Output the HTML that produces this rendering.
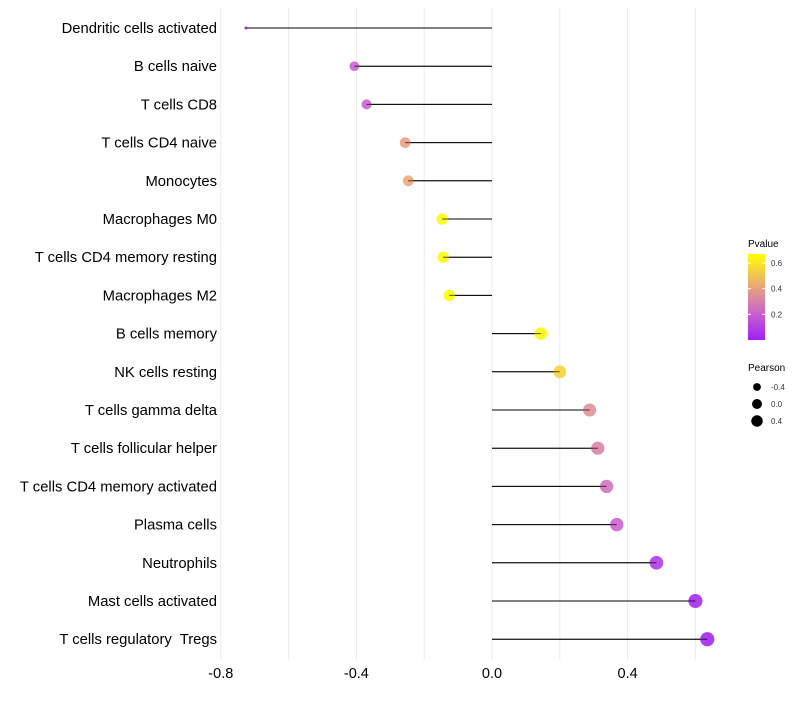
<!DOCTYPE html>
<html><head><meta charset="utf-8"><style>
body{margin:0;background:#fff;font-family:"Liberation Sans",Arial,sans-serif;}
text{white-space:pre;}
</style></head><body>
<svg id="chart" width="800" height="700" xmlns="http://www.w3.org/2000/svg" font-family="Liberation Sans, Arial, sans-serif"></svg>
<script>
const categories=["Dendritic cells activated","B cells naive","T cells CD8","T cells CD4 naive","Monocytes","Macrophages M0","T cells CD4 memory resting","Macrophages M2","B cells memory","NK cells resting","T cells gamma delta","T cells follicular helper","T cells CD4 memory activated","Plasma cells","Neutrophils","Mast cells activated","T cells regulatory  Tregs"];
const pearson=[-0.726,-0.406,-0.37,-0.256,-0.247,-0.147,-0.144,-0.126,0.144,0.2,0.288,0.312,0.338,0.368,0.485,0.6,0.635];
const pvalue=[0.01,0.2,0.2,0.4,0.42,0.65,0.65,0.67,0.65,0.55,0.35,0.3,0.25,0.2,0.08,0.02,0.01];
const xTicks=[-0.8,-0.4,0.0,0.4];
const xTickLabels=["-0.8","-0.4","0.0","0.4"];
const gridMinor=[-0.6,-0.2,0.2,0.6];
const legendP=[0.2,0.4,0.6];
const legendPearson=[-0.4,0.0,0.4];

const svg=document.getElementById('chart');
const NS='http://www.w3.org/2000/svg';
function mk(t,a,p){const e=document.createElementNS(NS,t);for(const k in a)e.setAttribute(k,a[k]);(p||svg).appendChild(e);return e;}
const x=v=>492+v*339;
const y=i=>28+i*38.2;
const pMax=0.67;
const stops=[[0,[160,32,240]],[0.3,[200,96,208]],[0.6,[232,160,128]],[1,[255,255,0]]];
function col(p){let t=Math.max(0,Math.min(1,p/pMax));for(let i=1;i<stops.length;i++){if(t<=stops[i][0]){const a=stops[i-1],b=stops[i];const f=(t-a[0])/(b[0]-a[0]);const c=a[1].map((v,j)=>Math.round(v+(b[1][j]-v)*f));return `rgb(${c})`;}}return 'rgb(255,255,0)';}
const pmin=Math.min(...pearson),pmax=Math.max(...pearson);
function rad(v){const t=Math.max(0,(v-pmin)/(pmax-pmin));return 1.5+5.6*Math.pow(t,0.35);}

for(const g of gridMinor.concat(xTicks)){const l=mk('line',{x1:x(g),x2:x(g),y1:8,y2:660,stroke:'#ebebeb','stroke-width':1});}
xTicks.forEach((t,i)=>{const e=mk('text',{x:x(t),y:678,'text-anchor':'middle','font-size':14.5,fill:'#000'});e.textContent=xTickLabels[i];});
categories.forEach((c,i)=>{
 const t=mk('text',{x:217,y:y(i)+5,'text-anchor':'end','font-size':14.8,fill:'#000'});t.textContent=c;
 
 const l=mk('line',{x1:x(0),x2:x(pearson[i]),y1:y(i),y2:y(i),stroke:'#000','stroke-width':1});
 
 const d=mk('circle',{cx:x(pearson[i]),cy:y(i),r:rad(pearson[i]),fill:col(pvalue[i]),'fill-opacity':0.88});
 
 const l2=mk('line',{x1:x(0),x2:x(pearson[i]),y1:y(i),y2:y(i),stroke:'#000','stroke-width':1,'stroke-opacity':0.6});
 
});
// legend
const lt=mk('text',{x:748,y:247,'font-size':10,fill:'#000'});lt.textContent='Pvalue';
const defs=mk('defs',{});const gr=mk('linearGradient',{id:'pg',x1:0,y1:1,x2:0,y2:0},defs);
stops.forEach(s=>mk('stop',{offset:s[0],'stop-color':`rgb(${s[1]})`},gr));
const bar=mk('rect',{x:748,y:254,width:17,height:86,fill:'url(#pg)'});
const ly=p=>340-p/pMax*86;
legendP.forEach(p=>{mk('line',{x1:748,x2:751,y1:ly(p),y2:ly(p),stroke:'#fff'});mk('line',{x1:762,x2:765,y1:ly(p),y2:ly(p),stroke:'#fff'});const e=mk('text',{x:771,y:ly(p)+3,'font-size':8,fill:'#333'});e.textContent=p.toFixed(1);});
const st=mk('text',{x:748,y:371,'font-size':10,fill:'#000'});st.textContent='Pearson';
legendPearson.forEach((v,i)=>{const cy=387+i*17;const c=mk('circle',{cx:757,cy:cy,r:rad(v)-1,fill:'#000'});const e=mk('text',{x:771,y:cy+3,'font-size':8,fill:'#333'});e.textContent=v.toFixed(1);});
</script>
</body></html>
